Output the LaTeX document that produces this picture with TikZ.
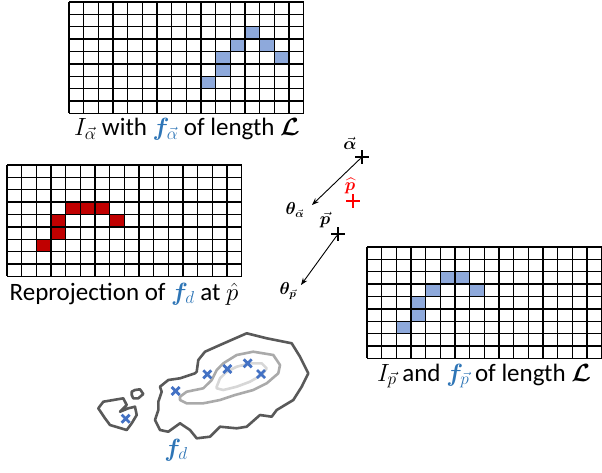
\documentclass[tikz,border=0pt]{standalone}
\usepackage{amsmath,bm}
\usepackage{fontspec}
\setmainfont{Carlito}
\usetikzlibrary{arrows.meta, calc}
\definecolor{cellblue}{RGB}{142,169,219}
\definecolor{cellred}{RGB}{192,0,0}
\definecolor{fblue}{RGB}{46,117,182}
\definecolor{markblue}{RGB}{68,114,196}
\definecolor{lvlone}{RGB}{89,89,89}
\definecolor{lvltwo}{RGB}{170,170,170}
\definecolor{lvlthree}{RGB}{215,215,215}
\newcommand{\fvec}[1]{\textcolor{fblue}{\bm{f}_{#1}}}

\begin{document}
\begin{tikzpicture}[x=1pt, y=-1pt, >=Stealth,
      gridline/.style={draw=black, line width=1.3pt},
      caption/.style={font=\fontsize{25}{28}\selectfont, inner sep=0pt},
      vlabel/.style={font=\fontsize{16}{18}\selectfont, inner sep=0pt},
      dir/.style={->, line width=0.9pt, shorten <=2pt},
      lvl/.style={line width=2.6pt, line join=round},
      pics/cross/.style={code={\draw[line width=2.8pt, markblue] (-4,-4) -- (4,4) (-4,4) -- (4,-4);}},
      pics/pmark/.style={code={\draw[line width=1.4pt, #1] (-7,0) -- (7,0) (0,-7) -- (0,7);}}]
  \useasboundingbox (0,0) rectangle (602,472);
  \def\cw{14.66}
  \def\ch{12.37}
  % top grid, f_alpha
  \begin{scope}[shift={(69,2)}]
    \foreach \c/\r in {12/2, 11/3, 13/3, 10/4, 14/4, 10/5, 9/6}
      \fill[cellblue] (\c*\cw,\r*\ch) rectangle ++(\cw,\ch);
    \foreach \i in {0,...,16} \draw[gridline] (\i*\cw,0) -- (\i*\cw,9*\ch);
    \foreach \j in {0,...,9} \draw[gridline] (0,\j*\ch) -- (16*\cw,\j*\ch);
  \end{scope}
  % left grid, reprojection
  \begin{scope}[shift={(7,165)}]
    \foreach \c/\r in {4/3, 5/3, 6/3, 3/4, 7/4, 3/5, 2/6}
      \fill[cellred] (\c*\cw,\r*\ch) rectangle ++(\cw,\ch);
    \foreach \i in {0,...,16} \draw[gridline] (\i*\cw,0) -- (\i*\cw,9*\ch);
    \foreach \j in {0,...,9} \draw[gridline] (0,\j*\ch) -- (16*\cw,\j*\ch);
  \end{scope}
  % right grid, f_p
  \begin{scope}[shift={(367,247)}]
    \foreach \c/\r in {5/2, 6/2, 4/3, 7/3, 3/4, 3/5, 2/6}
      \fill[cellblue] (\c*\cw,\r*\ch) rectangle ++(\cw,\ch);
    \foreach \i in {0,...,16} \draw[gridline] (\i*\cw,0) -- (\i*\cw,9*\ch);
    \foreach \j in {0,...,9} \draw[gridline] (0,\j*\ch) -- (16*\cw,\j*\ch);
  \end{scope}

  \node[caption] (capalpha) at (187,129) {$I_{\vec{\alpha}}$ with $\fvec{\vec{\alpha}}$ of length $\bm{\mathcal{L}}$};
  \node[caption] (capreproj) at (124,294) {Reprojection of $\fvec{d}$ at $\hat{p}$};
  \node[caption] (capp) at (484,376) {$I_{\vec{p}}$ and $\fvec{\vec{p}}$ of length $\bm{\mathcal{L}}$};

  % poses and viewing directions
  \coordinate (alpha) at (362,157);
  \coordinate (palpha) at (312,205);
  \coordinate (pose) at (338,234);
  \coordinate (ppose) at (301,285);
  \coordinate (phat) at (353,201);
  \pic at (alpha) {pmark=black};
  \pic at (pose) {pmark=black};
  \pic at (phat) {pmark=red};
  \draw[dir] (alpha) -- (palpha);
  \draw[dir] (pose) -- (ppose);
  \node[vlabel] (lalpha) at (350,143) {$\vec{\bm{\alpha}}$};
  \node[vlabel] (lthalpha) at (295,210) {$\bm{\theta}_{\vec{\bm{\alpha}}}$};
  \node[vlabel, text=red] (lphat) at (350,186) {$\widehat{\bm{p}}$};
  \node[vlabel] (lpose) at (325,220) {$\vec{\bm{p}}$};
  \node[vlabel] (lthp) at (288,291) {$\bm{\theta}_{\vec{\bm{p}}}$};

  % level sets of f_d
  \draw[lvl, lvlone] (196.7,371.7) -- (198.3,360) -- (205,351.7) -- (220,345) -- (246.7,333.3)
    -- (266.7,338.3) -- (291.7,343.3) -- (300,356.7) -- (308.3,373.3) -- (301.7,386.7)
    -- (293.3,400) -- (276.7,410) -- (271.7,416.7) -- (260,415) -- (246.7,426.7)
    -- (236.7,428.3) -- (220,426.7) -- (215,431.7) -- (210,436.7) -- (196.7,438.3)
    -- (190,430) -- (180,423.3) -- (168.3,431.7) -- (160,430) -- (155,420) -- (158.3,410)
    -- (158.3,401.7) -- (161.7,391.7) -- (160,386.7) -- (168.3,380) -- (180,378.3)
    -- (195,373.3) -- cycle;
  \draw[lvl, lvlone] (98.3,408.3) -- (103.3,401.7) -- (123.3,398.3) -- (126.7,405) -- (120,411.7)
    -- (128.3,408.3) -- (135,406.7) -- (136.7,415) -- (131.7,423.3) -- (126.7,430)
    -- (110,425) -- (105,418.3) -- cycle;
  \draw[lvl, lvlone] (131.7,391.7) -- (135,390) -- (140,389.3) -- (143.3,394) -- (138.3,398.3)
    -- (133.3,398.3) -- (131.7,395) -- cycle;
  \draw[lvl, lvltwo] (180,396.7) -- (186.7,391.7) -- (203.3,388.3) -- (211.7,380) -- (216.7,370)
    -- (223.3,363.3) -- (236.7,355) -- (253.3,351.7) -- (273.3,355) -- (280,365)
    -- (278.3,373.3) -- (266.7,383.3) -- (253.3,390) -- (235,395) -- (220,400)
    -- (203.3,403.3) -- (186.7,403.3) -- (180,400) -- cycle;
  \draw[lvl, lvlthree] (216.7,386.7) -- (220,378.3) -- (226.7,371.7) -- (236.7,366.7) -- (250,363.3)
    -- (261.7,363.3) -- (266.7,368.3) -- (261.7,375) -- (250,381.7) -- (236.7,386.7)
    -- (223.3,390) -- (216.7,388.3) -- cycle;
  \foreach \pt in {(175.7,391), (207.3,374.3), (227.3,369), (247.7,363.3), (261,374), (125.7,418.7)}
    \pic at \pt {cross};
  \node[caption, font=\fontsize{27}{28}\selectfont] (lfd) at (176,450) {$\fvec{d}$};
\end{tikzpicture}
\end{document}
